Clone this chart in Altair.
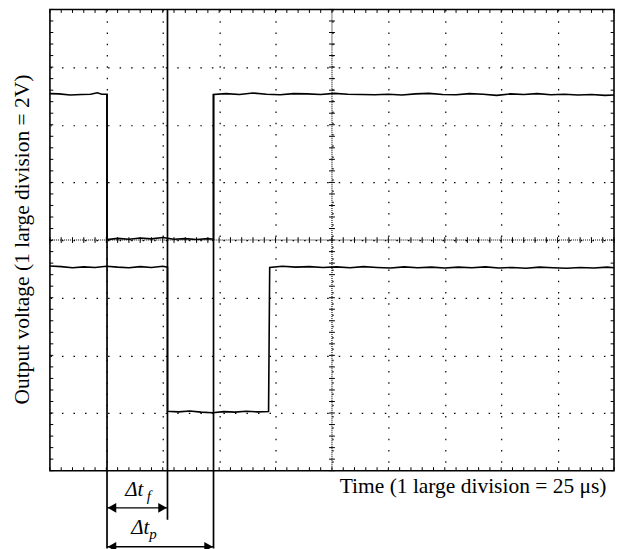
import altair as alt
import pandas as pd

# ---------------- data (time in microseconds, voltage in volts) ----------------
# upper trace: high level, fall, low level, rise, high level (small noise)
trace1_t = [0, 4, 9, 14, 18, 21, 23, 25.3, 25.3,
            30, 35, 40, 45, 50, 55, 60, 65, 70, 72.5, 72.5,
            78, 84, 90, 96, 102, 108, 114, 120, 126, 132, 138, 144, 150, 156,
            162, 168, 174, 180, 186, 192, 198, 204, 210, 216, 222, 228, 234, 240, 246, 250]
trace1_v = [13.08, 13.07, 13.03, 13.05, 13.06, 13.11, 13.06, 13.06, 8.02,
            8.06, 8.03, 8.07, 8.04, 8.09, 8.03, 8.05, 8.02, 8.05, 8.03, 13.05,
            13.08, 13.05, 13.1, 13.06, 13.04, 13.08, 13.07, 13.05, 13.09, 13.06, 13.05, 13.04, 13.06, 13.03,
            13.07, 13.09, 13.05, 13.04, 13.08, 13.06, 13.02, 13.07, 13.05, 13.08, 13.04, 13.06, 13.03, 13.05, 13.02, 13.03]
# lower trace: high level, fall, low level, rise, high level
trace2_t = [0, 5, 10, 15, 20, 25, 30, 35, 40, 45, 50, 52.1, 52.1,
            57, 62, 67, 72, 77, 82, 87, 92, 96.9, 97.4,
            103, 109, 115, 121, 127, 133, 139, 145, 151, 157, 163, 169, 175, 181,
            187, 193, 199, 205, 211, 217, 223, 229, 235, 241, 247, 250]
trace2_v = [7.10, 7.08, 7.04, 7.07, 7.05, 7.09, 7.06, 7.04, 7.08, 7.05, 7.09, 7.06, 2.06,
            2.04, 2.07, 2.03, 2.01, 2.05, 2.03, 2.06, 2.04, 2.05, 7.05,
            7.09, 7.06, 7.08, 7.05, 7.07, 7.04, 7.08, 7.05, 7.03, 7.07, 7.04, 7.06, 7.03, 7.06,
            7.04, 7.07, 7.03, 7.05, 7.02, 7.06, 7.04, 7.02, 7.05, 7.03, 7.06, 7.04]

# measurement marker lines
marker_t = [25.3, 52.1, 72.5]
marker_top = [13.07, 16.0, 13.07]
marker_bottom = [-2.70, -1.70, -2.70]

# double-headed arrows
arrow_start = [25.3, 25.3]
arrow_end = [52.1, 72.5]
arrow_v = [-1.29, -2.64]

# labels
label_text = ["Δt", "f", "Δt", "p"]
label_t = [33.4, 42.9, 36.0, 44.0]
label_v = [-0.89, -1.06, -2.19, -2.36]
label_size = [21, 15, 21, 15]

# graticule
x_major = [25, 50, 75, 100, 125, 150, 175, 200, 225]
y_major = [2, 4, 6, 8, 10, 12, 14]
x_minor = [i * 5 for i in range(51)]
y_minor = [round(i * 0.4, 2) for i in range(41)]
X_MAX, Y_MAX, X_MID, Y_MID = 250, 16, 125, 8

FONT = "Liberation Serif"
W, H = 565, 462

xs = alt.Scale(domain=[0, X_MAX], nice=False, zero=False)
ys = alt.Scale(domain=[0, Y_MAX], nice=False, zero=False)

xaxis = alt.Axis(values=x_major, grid=True, gridDash=[1.5, 9.8], gridColor="black",
                 gridWidth=1.2, gridOpacity=1, ticks=False, labels=False, domain=False,
                 title="Time (1 large division = 25 μs)", titleFont=FONT, titleFontSize=21.5,
                 titleFontWeight="normal", titleColor="black", titleX=557, titleY=22,
                 titleAlign="right", titleBaseline="alphabetic")
yaxis = alt.Axis(values=y_major, grid=True, gridDash=[1.5, 10.05], gridColor="black",
                 gridWidth=1.2, gridOpacity=1, ticks=False, labels=False, domain=False,
                 title="Output voltage (1 large division = 2V)", titleFont=FONT,
                 titleFontSize=21.5, titleFontWeight="normal", titleColor="black",
                 titleAngle=270, titleX=-21, titleY=230, titleAlign="center",
                 titleBaseline="alphabetic")

X = alt.X("t:Q", scale=xs, axis=xaxis)
Y = alt.Y("v:Q", scale=ys, axis=yaxis)

traces = pd.DataFrame({
    "t": trace1_t + trace2_t,
    "v": trace1_v + trace2_v,
    "trace": ["A"] * len(trace1_t) + ["B"] * len(trace2_t),
    "o": list(range(len(trace1_t))) + list(range(len(trace2_t))),
})

# tick segments of the graticule
segs = []
for t in x_minor:
    segs.append({"t": t, "t2": t, "v": 0, "v2": 0.12})
    segs.append({"t": t, "t2": t, "v": Y_MAX - 0.12, "v2": Y_MAX})
    segs.append({"t": t, "t2": t, "v": Y_MID - 0.1, "v2": Y_MID + 0.1})
for v in y_minor:
    segs.append({"t": 0, "t2": 1.5, "v": v, "v2": v})
    segs.append({"t": X_MAX - 1.5, "t2": X_MAX, "v": v, "v2": v})
    segs.append({"t": X_MID - 1.3, "t2": X_MID + 1.3, "v": v, "v2": v})
segs = pd.DataFrame(segs)

centre = pd.DataFrame({"t": [X_MID, 0], "t2": [X_MID, X_MAX], "v": [0, Y_MID], "v2": [Y_MAX, Y_MID]})

markers = pd.DataFrame({"t": marker_t, "v": marker_top, "v2": marker_bottom})
arrows = pd.DataFrame({"t": arrow_start, "t2": arrow_end, "v": arrow_v})
heads_l = pd.DataFrame({"t": arrow_start, "v": arrow_v})
heads_r = pd.DataFrame({"t": arrow_end, "v": arrow_v})
labels = pd.DataFrame({"t": label_t, "v": label_v, "label": label_text, "fs": label_size})

tick_layer = alt.Chart(segs).mark_rule(color="black", strokeWidth=1).encode(
    x=X, x2="t2:Q", y=Y, y2="v2:Q")
centre_layer = alt.Chart(centre).mark_rule(color="black", strokeWidth=1.1, strokeDash=[1, 1]).encode(
    x=X, x2="t2:Q", y=Y, y2="v2:Q")
trace_layer = alt.Chart(traces).mark_line(color="black", strokeWidth=1.6).encode(
    x=X, y=Y, detail="trace:N", order="o:Q")
marker_layer = alt.Chart(markers).mark_rule(color="black", strokeWidth=1.7).encode(
    x=X, y=Y, y2="v2:Q")
arrow_layer = alt.Chart(arrows).mark_rule(color="black", strokeWidth=1.4).encode(
    x=X, x2="t2:Q", y=Y)
head_l_layer = alt.Chart(heads_l).mark_point(
    shape="triangle-left", filled=True, color="black", opacity=1, size=95,
    xOffset=5).encode(x=X, y=Y)
head_r_layer = alt.Chart(heads_r).mark_point(
    shape="triangle-right", filled=True, color="black", opacity=1, size=95,
    xOffset=-5).encode(x=X, y=Y)
label_layer = alt.Chart(labels).mark_text(font=FONT, fontStyle="italic", align="left",
                                          baseline="alphabetic", color="black").encode(
    x=X, y=Y, text="label:N", size=alt.Size("fs:Q", scale=None))

chart = alt.layer(
    tick_layer, centre_layer, trace_layer, marker_layer, arrow_layer,
    head_l_layer, head_r_layer, label_layer
).properties(
    width=W, height=H,
    autosize=alt.AutoSizeParams(type="none"),
    padding={"left": 42, "top": 1, "right": 2, "bottom": 78},
    background="white",
).configure_view(stroke="black", strokeWidth=1.6)

chart.save("out.html", embed_options={"renderer": "svg", "actions": False})
